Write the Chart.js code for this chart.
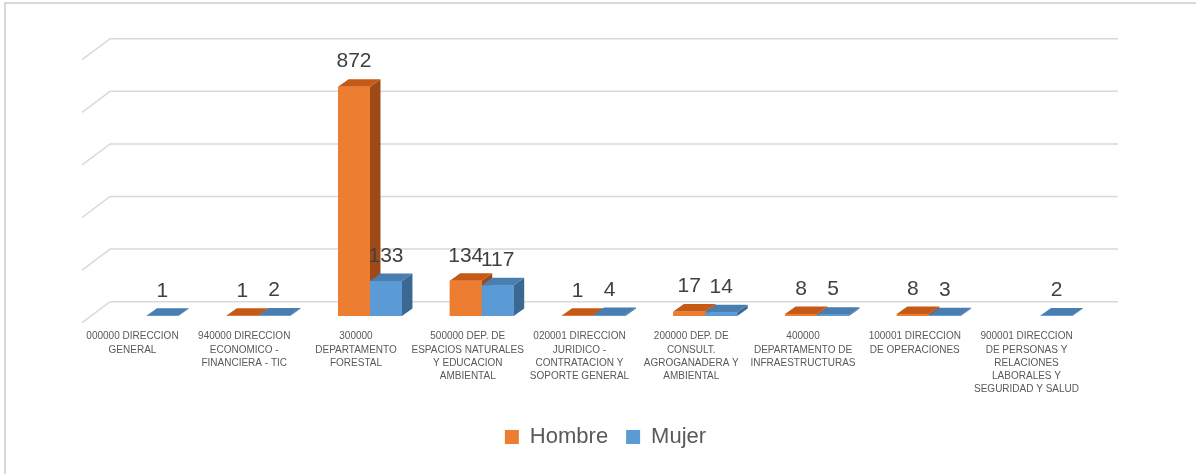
<!DOCTYPE html>
<html>
<head>
<meta charset="utf-8">
<script src="https://cdn.jsdelivr.net/npm/chart.js@4"></script>
<style>
  body { margin: 0; background: #fff; }
  #wrap { position: relative; width: 1196px; height: 474px; overflow: hidden; }
  #frame { position: absolute; left: 4px; top: 2px; right: -10px; bottom: -10px;
           border-left: 2px solid #d9d9d9; border-top: 2px solid #d9d9d9; }
  #chart { position: absolute; left: 0; top: 0; }
</style>
</head>
<body>
<div id="wrap">
  <div id="frame"></div>
  <canvas id="chart" width="1196" height="474"></canvas>
</div>
<script>
const categories = [
  ["000000 DIRECCION", "GENERAL"],
  ["940000 DIRECCION", "ECONOMICO -", "FINANCIERA - TIC"],
  ["300000", "DEPARTAMENTO", "FORESTAL"],
  ["500000 DEP. DE", "ESPACIOS NATURALES", "Y EDUCACION", "AMBIENTAL"],
  ["020001 DIRECCION", "JURIDICO -", "CONTRATACION Y", "SOPORTE GENERAL"],
  ["200000 DEP. DE", "CONSULT.", "AGROGANADERA Y", "AMBIENTAL"],
  ["400000", "DEPARTAMENTO DE", "INFRAESTRUCTURAS"],
  ["100001 DIRECCION", "DE OPERACIONES"],
  ["900001 DIRECCION", "DE PERSONAS Y", "RELACIONES", "LABORALES Y", "SEGURIDAD Y SALUD"]
];
const hombre = [null, 1, 872, 134, 1, 17, 8, 8, null];
const mujer = [1, 2, 133, 117, 4, 14, 5, 3, 2];
const yMin = 0;
const yMax = 1000;
const yStep = 200;

// front / top / side colours for the fake 3d bars
const faces = [
  { front: "#ed7d31", top: "#c55a17", side: "#9e4a17" },
  { front: "#5b9bd5", top: "#4a7db0", side: "#3b6892" }
];
const depthX = 10.5;
const depthY = 7.5;

const wallPlugin = {
  id: "wall",
  beforeDatasetsDraw: function(chart) {
    const ctx = chart.ctx;
    const area = chart.chartArea;
    const y = chart.scales.y;
    const x0 = area.left + 19.5;
    const x1 = area.right + 21.5;
    ctx.save();
    ctx.strokeStyle = "#d9d9d9";
    ctx.lineWidth = 1.5;
    y.ticks.forEach(function(t) {
      const py = y.getPixelForValue(t.value) - 14.3;
      ctx.beginPath();
      ctx.moveTo(x0 - 28, py + 21);
      ctx.lineTo(x0, py);
      ctx.lineTo(x1, py);
      ctx.stroke();
    });
    ctx.restore();
  }
};

const barsPlugin = {
  id: "bars3d",
  afterDatasetsDraw: function(chart) {
    const ctx = chart.ctx;
    ctx.save();
    chart.data.datasets.forEach(function(ds, i) {
      const meta = chart.getDatasetMeta(i);
      const c = faces[i];
      meta.data.forEach(function(bar, j) {
        if (ds.data[j] === null) return;
        const p = bar.getProps(["x", "y", "base", "width"], true);
        const l = p.x - p.width / 2;
        const r = p.x + p.width / 2;
        ctx.fillStyle = c.side;
        ctx.beginPath();
        ctx.moveTo(r, p.y);
        ctx.lineTo(r + depthX, p.y - depthY);
        ctx.lineTo(r + depthX, p.base - depthY);
        ctx.lineTo(r, p.base);
        ctx.closePath();
        ctx.fill();
        ctx.fillStyle = c.top;
        ctx.beginPath();
        ctx.moveTo(l, p.y);
        ctx.lineTo(r, p.y);
        ctx.lineTo(r + depthX, p.y - depthY);
        ctx.lineTo(l + depthX, p.y - depthY);
        ctx.closePath();
        ctx.fill();
        ctx.fillStyle = c.front;
        ctx.fillRect(l, p.y, p.width, p.base - p.y);
      });
    });
    // value labels
    ctx.fillStyle = "#404040";
    ctx.font = "21px 'Liberation Sans', Arial, sans-serif";
    ctx.textAlign = "center";
    ctx.textBaseline = "middle";
    chart.data.datasets.forEach(function(ds, i) {
      chart.getDatasetMeta(i).data.forEach(function(bar, j) {
        if (ds.data[j] === null) return;
        const p = bar.getProps(["x", "y"], true);
        ctx.fillText(String(ds.data[j]), p.x, p.y - 25);
      });
    });
    ctx.restore();
  },
  afterLayout: function(chart) {
    chart.legend.left += 12;
    chart.legend.right += 12;
  }
};

const ctx = document.getElementById("chart").getContext("2d");
const myChart = new Chart(ctx, {
  type: "bar",
  data: {
    labels: categories,
    datasets: [
      { label: "Hombre", data: hombre, backgroundColor: faces[0].front, borderWidth: 0 },
      { label: "Mujer", data: mujer, backgroundColor: faces[1].front, borderWidth: 0 }
    ]
  },
  options: {
    responsive: false,
    animation: false,
    layout: { padding: { top: 53, left: 90.6, right: 99.6, bottom: 16 } },
    datasets: { bar: { categoryPercentage: 0.572, barPercentage: 1 } },
    scales: {
      x: {
        grid: { display: false, drawTicks: false },
        border: { display: false },
        ticks: {
          color: "#595959",
          font: { family: "'Liberation Sans', Arial, sans-serif", size: 10, lineHeight: 1.32 },
          padding: 14,
          labelOffset: -14,
          maxRotation: 0,
          minRotation: 0,
          autoSkip: false
        },
        afterFit: function(scale) {
          scale.height = 92;
          scale.paddingLeft = 0;
          scale.paddingRight = 0;
        }
      },
      y: {
        min: yMin,
        max: yMax,
        ticks: { display: false, stepSize: yStep },
        grid: { display: false, drawTicks: false },
        border: { display: false }
      }
    },
    plugins: {
      legend: {
        position: "bottom",
        labels: {
          boxWidth: 14,
          boxHeight: 14,
          padding: 18,
          color: "#595959",
          font: { family: "'Liberation Sans', Arial, sans-serif", size: 22 }
        }
      },
      tooltip: { enabled: false }
    }
  },
  plugins: [wallPlugin, barsPlugin]
});
</script>
</body>
</html>
